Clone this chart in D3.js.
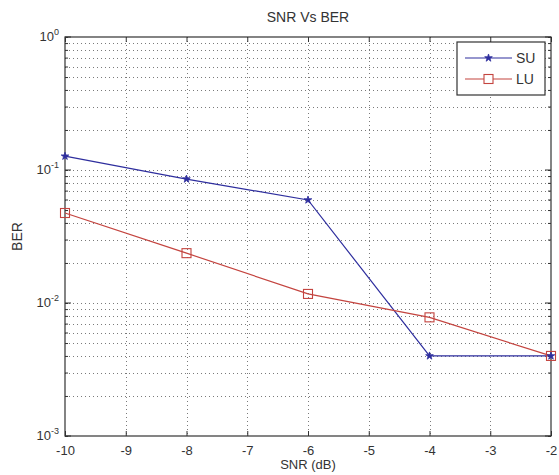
<!DOCTYPE html>
<html>
<head>
<meta charset="utf-8">
<script src="https://cdn.jsdelivr.net/npm/d3@7"></script>
<style>
  body { margin: 0; background: #fff; }
  text { font-family: "Liberation Sans", Arial, sans-serif; fill: #333; }
</style>
</head>
<body>
<svg class="chart"></svg>
<script>
// chart data
var snr = [-10, -8, -6, -4, -2];
var berSU = [0.127, 0.0855, 0.0595, 0.0040, 0.0040];
var berLU = [0.0475, 0.0237, 0.0117, 0.0078, 0.0040];
var xTicks = [-10, -9, -8, -7, -6, -5, -4, -3, -2];
var yExponents = [0, -1, -2, -3];

function show() {
    'use strict';

    var margin = { top: 37, bottom: 39, right: 8, left: 65 },
        width = 559 - margin.left - margin.right,
        height = 475 - margin.top - margin.bottom;

    var svg = d3.select(".chart")
        .attr("width", 559)
        .attr("height", 475);

    var chart = svg.append("g")
        .attr("transform", "translate(" + margin.left + "," + margin.top + ")");

    var x = d3.scaleLinear().domain([-10, -2]).range([0, width]);
    var y = d3.scaleLog().domain([1e-3, 1]).range([height, 0]);

    // minor + major y values for grid
    var yGrid = [];
    [-3, -2, -1].forEach(function (e) {
        for (var m = 1; m <= 9; m++) yGrid.push(m * Math.pow(10, e));
    });
    var yInner = yGrid.filter(function (v) { return v > 1.0001e-3; });
    var noLabel = function () { return ""; };

    // grid
    chart.append("g").selectAll("line").data(xTicks.slice(1, -1))
        .enter().append("line")
        .attr("x1", d => Math.round(x(d)) + 0.5).attr("x2", d => Math.round(x(d)) + 0.5)
        .attr("y1", 0).attr("y2", height)
        .attr("stroke", "#7a7a7a").attr("stroke-width", 1)
        .attr("stroke-dasharray", "1,3");

    chart.append("g").selectAll("line").data(yInner)
        .enter().append("line")
        .attr("x1", 0).attr("x2", width)
        .attr("y1", d => Math.round(y(d)) + 0.5).attr("y2", d => Math.round(y(d)) + 0.5)
        .attr("stroke", "#7a7a7a").attr("stroke-width", 1)
        .attr("stroke-dasharray", "1,3");

    // x ticks (inside, bottom and top)
    var bottomAxis = d3.axisBottom(x).tickValues(xTicks).tickSizeInner(-5).tickSizeOuter(0).tickPadding(10);
    var topAxis = d3.axisTop(x).tickValues(xTicks).tickSizeInner(-5).tickSizeOuter(0).tickFormat(noLabel);

    var gb = chart.append("g").attr("transform", "translate(0," + height + ")").call(bottomAxis);
    gb.selectAll("text").style("font-size", "13px").style("fill", "#333").text(d => "-" + Math.abs(d));
    chart.append("g").call(topAxis);

    // y ticks (inside, left and right), minor length
    var leftAxis = d3.axisLeft(y).tickValues(yGrid.concat([1])).tickSizeOuter(0).tickFormat(noLabel)
        .tickSizeInner(-3);
    var rightAxis = d3.axisRight(y).tickValues(yGrid.concat([1])).tickSizeOuter(0).tickFormat(noLabel)
        .tickSizeInner(-3);
    chart.append("g").call(leftAxis);
    chart.append("g").attr("transform", "translate(" + width + ",0)").call(rightAxis);

    chart.selectAll(".domain").remove();
    chart.selectAll(".tick line").attr("stroke", "#333");

    // longer major y ticks
    var majors = chart.append("g");
    yExponents.forEach(function (e) {
        var yy = y(Math.pow(10, e));
        majors.append("line").attr("x1", 0).attr("x2", 6).attr("y1", yy).attr("y2", yy).attr("stroke", "#333");
        majors.append("line").attr("x1", width - 6).attr("x2", width).attr("y1", yy).attr("y2", yy).attr("stroke", "#333");
    });

    // frame
    chart.append("rect")
        .attr("width", width).attr("height", height)
        .attr("fill", "none").attr("stroke", "#333").attr("stroke-width", 1.2);

    // y tick labels 10^k
    var ylab = chart.append("g").selectAll("text").data(yExponents)
        .enter().append("text")
        .attr("x", -6)
        .attr("y", d => y(Math.pow(10, d)) + 4)
        .attr("text-anchor", "end")
        .style("font-size", "13px");
    ylab.append("tspan").text("10");
    ylab.append("tspan").attr("dy", -6).style("font-size", "9px").text(d => d === 0 ? "0" : String(d));

    // lines
    var line = d3.line().x(d => x(d[0])).y(d => y(d[1]));
    var suColor = "#2e2e9e", luColor = "#c4443f";

    chart.append("path").datum(d3.zip(snr, berSU))
        .attr("d", line).attr("fill", "none").attr("stroke", suColor).attr("stroke-width", 1.2);
    chart.append("path").datum(d3.zip(snr, berLU))
        .attr("d", line).attr("fill", "none").attr("stroke", luColor).attr("stroke-width", 1.2);

    // markers
    var star = d3.symbol().type(d3.symbolStar).size(18);
    chart.append("g").selectAll("path").data(d3.zip(snr, berSU))
        .enter().append("path")
        .attr("d", star)
        .attr("transform", d => "translate(" + x(d[0]) + "," + y(d[1]) + ")")
        .attr("fill", suColor).attr("stroke", suColor).attr("stroke-width", 0.8);

    chart.append("g").selectAll("rect").data(d3.zip(snr, berLU))
        .enter().append("rect")
        .attr("x", d => x(d[0]) - 4.5).attr("y", d => y(d[1]) - 4.5)
        .attr("width", 9).attr("height", 9)
        .attr("fill", "none").attr("stroke", luColor).attr("stroke-width", 1.1);

    // legend
    var legend = svg.append("g").attr("transform", "translate(457,42)");
    legend.append("rect").attr("width", 88).attr("height", 53)
        .attr("fill", "#fff").attr("stroke", "#333").attr("stroke-width", 1.2);
    var entries = [
        { name: "SU", color: suColor, yy: 16 },
        { name: "LU", color: luColor, yy: 37 }
    ];
    entries.forEach(function (e, i) {
        legend.append("line").attr("x1", 8).attr("x2", 55).attr("y1", e.yy).attr("y2", e.yy)
            .attr("stroke", e.color).attr("stroke-width", 1.2);
        if (i === 0) {
            legend.append("path").attr("d", star).attr("transform", "translate(31.5," + e.yy + ")")
                .attr("fill", e.color).attr("stroke", e.color).attr("stroke-width", 0.8);
        } else {
            legend.append("rect").attr("x", 27).attr("y", e.yy - 4.5).attr("width", 9).attr("height", 9)
                .attr("fill", "#fff").attr("stroke", e.color).attr("stroke-width", 1.1);
        }
        legend.append("text").attr("x", 59).attr("y", e.yy + 5).style("font-size", "14px").text(e.name);
    });

    // title and axis labels
    svg.append("text").attr("x", margin.left + width / 2).attr("y", 22)
        .attr("text-anchor", "middle").style("font-size", "14px").text("SNR Vs BER");
    svg.append("text").attr("x", margin.left + width / 2).attr("y", 469)
        .attr("text-anchor", "middle").style("font-size", "13px").text("SNR (dB)");
    svg.append("text")
        .attr("transform", "translate(22," + (margin.top + height / 2) + ") rotate(-90)")
        .attr("text-anchor", "middle").style("font-size", "14px").text("BER");
}

show();
</script>
</body>
</html>
